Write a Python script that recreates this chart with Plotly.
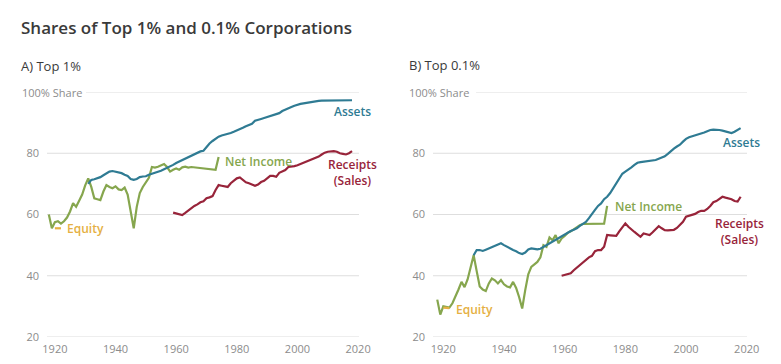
import plotly.graph_objects as go

# ---------------- data ----------------
# Panel A: Top 1%
a_ni_years = list(range(1918, 1975))
a_ni_vals = [60.0, 55.5, 57.5, 57.8, 57.0, 57.8, 59.0, 61.0, 63.7, 62.5,
             64.5, 66.5, 69.5, 71.8, 69.0, 65.3, 65.0, 64.7, 67.5, 69.6,
             69.0, 68.6, 69.2, 68.2, 68.0, 68.8, 66.5, 61.0, 55.5, 62.5,
             67.0, 69.0, 70.5, 72.0, 75.5, 75.3, 75.6, 76.0, 76.5, 75.5,
             74.0, 74.6, 75.0, 74.6, 75.4, 75.6, 75.3, 75.5, 75.4, 75.3,
             75.3, 75.1, 75.0, 74.9, 74.8, 74.6, 78.8]

a_assets_years = list(range(1931, 2019))
a_assets_vals = [70.0, 71.3, 71.5, 71.8, 72.2, 72.8, 73.5, 74.0, 74.2, 74.0,
                 73.8, 73.5, 73.0, 72.6, 71.6, 71.3, 71.6, 72.2, 72.4, 72.5,
                 73.0, 73.3, 73.5, 73.9, 74.3, 74.8, 75.2, 75.6, 76.2, 76.8,
                 77.3, 77.8, 78.3, 78.7, 79.1, 79.6, 80.1, 80.6, 80.8, 82.0,
                 83.2, 84.0, 84.7, 85.4, 85.8, 86.0, 86.2, 86.6, 87.0, 87.4,
                 87.7, 88.3, 88.8, 89.2, 89.6, 90.6, 91.0, 91.2, 91.5, 91.8,
                 92.0, 92.4, 92.8, 93.1, 93.8, 94.3, 94.8, 95.1, 95.5, 95.9,
                 96.1, 96.3, 96.5, 96.6, 96.8, 97.0, 97.1, 97.2, 97.2, 97.3,
                 97.3, 97.3, 97.3, 97.3, 97.3, 97.3, 97.3, 97.3]

a_rec_years = list(range(1959, 2019))
a_rec_vals = [60.6, 60.4, 60.0, 59.8, 60.5, 61.3, 62.2, 62.8, 63.3, 64.0,
              64.3, 65.3, 65.6, 66.0, 68.0, 69.6, 69.4, 69.2, 69.0, 70.2,
              71.0, 71.8, 72.1, 71.2, 70.5, 70.2, 69.8, 69.4, 69.8, 70.6,
              71.0, 71.8, 72.6, 72.6, 72.3, 73.6, 74.0, 74.5, 75.5, 75.6,
              75.8, 76.1, 76.5, 77.0, 77.3, 77.8, 78.0, 78.4, 78.9, 79.6,
              80.2, 80.5, 80.6, 80.7, 80.5, 80.0, 79.8, 79.6, 80.0, 80.7]

a_eq_years = [1920, 1921, 1922]
a_eq_vals = [55.5, 55.6, 55.5]

# Panel B: Top 0.1%
b_ni_years = list(range(1918, 1975))
b_ni_vals = [32.2, 27.3, 30.0, 29.8, 29.6, 31.0, 33.0, 35.5, 38.0, 36.3,
             38.8, 42.5, 46.7, 41.5, 36.5, 35.5, 35.0, 37.5, 39.1, 38.5,
             37.5, 38.6, 37.2, 36.5, 36.2, 38.0, 36.0, 33.0, 29.3, 35.3,
             40.5, 42.9, 43.8, 44.5, 46.0, 50.0, 49.4, 52.5, 51.6, 53.3,
             50.6, 52.2, 53.0, 54.0, 54.5, 55.2, 56.0, 56.5, 56.9, 56.9,
             56.9, 56.9, 56.9, 56.9, 56.9, 57.0, 62.8]

b_assets_years = list(range(1930, 2019))
b_assets_vals = [46.7, 48.4, 48.4, 48.1, 48.5, 48.9, 49.3, 49.8, 50.3, 50.6,
                 50.0, 49.4, 48.8, 48.4, 48.0, 47.4, 47.1, 47.6, 48.6, 48.9,
                 48.8, 48.6, 48.8, 49.4, 50.0, 50.6, 51.1, 51.6, 52.3, 53.0,
                 53.5, 54.0, 54.6, 55.0, 55.5, 56.3, 57.0, 57.6, 58.8, 60.3,
                 61.5, 62.8, 63.6, 65.0, 65.8, 67.0, 68.5, 70.0, 71.8, 73.3,
                 74.0, 74.6, 75.4, 76.2, 76.9, 77.1, 77.2, 77.3, 77.5, 77.6,
                 77.8, 78.2, 78.6, 79.0, 79.8, 80.8, 81.5, 82.2, 82.8, 83.8,
                 84.7, 85.2, 85.5, 85.7, 86.0, 86.4, 86.8, 87.2, 87.6, 87.7,
                 87.7, 87.6, 87.4, 87.1, 86.8, 86.6, 87.0, 87.5, 88.2]

b_rec_years = list(range(1959, 2019))
b_rec_vals = [40.0, 40.3, 40.5, 40.8, 41.8, 42.7, 43.5, 44.2, 45.2, 46.0,
              46.5, 48.0, 48.4, 48.4, 49.5, 53.3, 53.2, 53.0, 53.0, 54.5,
              56.0, 57.1, 56.0, 55.0, 54.3, 53.5, 52.7, 53.8, 53.5, 53.3,
              54.2, 55.3, 56.2, 55.5, 54.9, 54.8, 54.9, 55.0, 55.6, 56.5,
              57.6, 59.3, 59.6, 60.0, 60.2, 60.8, 61.2, 61.2, 61.8, 62.8,
              64.0, 64.4, 65.0, 65.8, 65.5, 65.3, 65.0, 64.4, 64.2, 65.8]

b_eq_years = [1920, 1921, 1922]
b_eq_vals = [29.6, 29.5, 29.4]

x_ticks = [1920, 1940, 1960, 1980, 2000, 2020]
y_ticks = [20, 40, 60, 80]
y_ticktext = ["20", "40", "60", "80"]

# ---------------- styling ----------------
C_ASSETS = "#2f7b93"
C_NI = "#86a64e"
C_REC = "#98243a"
C_EQ = "#e5b043"
C_GRID = "#dedede"
C_TICK = "#8c8c8c"
C_TITLE = "#3a3a3a"
FONT = "Open Sans"

W, H = 781, 364

fig = go.Figure()

def add_line(x, y, color, xa, ya):
    fig.add_trace(go.Scatter(x=x, y=y, mode="lines", xaxis=xa, yaxis=ya,
                             line=dict(color=color, width=2.2),
                             hoverinfo="skip", showlegend=False))

add_line(a_ni_years, a_ni_vals, C_NI, "x", "y")
add_line(a_eq_years, a_eq_vals, C_EQ, "x", "y")
add_line(a_assets_years, a_assets_vals, C_ASSETS, "x", "y")
add_line(a_rec_years, a_rec_vals, C_REC, "x", "y")

add_line(b_ni_years, b_ni_vals, C_NI, "x2", "y2")
add_line(b_eq_years, b_eq_vals, C_EQ, "x2", "y2")
add_line(b_assets_years, b_assets_vals, C_ASSETS, "x2", "y2")
add_line(b_rec_years, b_rec_vals, C_REC, "x2", "y2")

ydom = [27 / H, 272 / H]
xaxis_common = dict(showgrid=False, zeroline=False, showline=False, ticks="",
                    automargin=False,
                    tickvals=x_ticks, tickfont=dict(family=FONT, size=11, color=C_TICK),
                    ticklabelstandoff=4, fixedrange=True)
yaxis_common = dict(showgrid=False, zeroline=False, showline=False, ticks="",
                    automargin=False,
                    range=[20, 100], tickvals=y_ticks, ticktext=y_ticktext,
                    tickfont=dict(family=FONT, size=11, color=C_TICK),
                    ticklabelstandoff=7, domain=ydom, fixedrange=True)

fig.update_layout(
    template="none",
    width=W, height=H,
    margin=dict(l=0, r=0, t=0, b=0, pad=0, autoexpand=False),
    paper_bgcolor="white", plot_bgcolor="white",
    font=dict(family=FONT),
    showlegend=False,
    xaxis=dict(xaxis_common, domain=[47 / W, 359 / W], range=[1917.4, 2020.3], anchor="y"),
    yaxis=dict(yaxis_common, anchor="x"),
    xaxis2=dict(xaxis_common, domain=[433 / W, 747 / W], range=[1916.6, 2020.1], anchor="y2"),
    yaxis2=dict(yaxis_common, anchor="x2"),
)

# gridlines
shapes = []
for xr, yr, start100 in [("x domain", "y", 0.125), ("x2 domain", "y2", 0.137)]:
    for v in y_ticks:
        shapes.append(dict(type="line", xref=xr, yref=yr, x0=0, x1=1, y0=v, y1=v,
                           line=dict(color=C_GRID, width=1.2), layer="below"))
    shapes.append(dict(type="line", xref=xr, yref=yr, x0=start100, x1=1, y0=100, y1=100,
                       line=dict(color=C_GRID, width=1.2), layer="below"))
fig.update_layout(shapes=shapes)

ann = []
def txt(text, x, y, xref, yref, size, color, xanchor="left", yanchor="middle",
        weight=400, align="left"):
    ann.append(dict(text=text, x=x, y=y, xref=xref, yref=yref, showarrow=False,
                    xanchor=xanchor, yanchor=yanchor, align=align,
                    font=dict(family=FONT, size=size, color=color, weight=weight)))

# titles
txt("Shares of Top 1% and 0.1% Corporations", 19 / W, 1 - 28 / H, "paper", "paper",
    17, C_TITLE, weight=600)
txt("A) Top 1%", 19 / W, 1 - 66 / H, "paper", "paper", 13, C_TITLE, weight=400)
txt("B) Top 0.1%", 407 / W, 1 - 65 / H, "paper", "paper", 13, C_TITLE, weight=400)
txt("100% Share", 20 / W, 100, "paper", "y", 11, C_TICK)
txt("100% Share", 407 / W, 100, "paper", "y2", 11, C_TICK)

# series labels, panel A
txt("Assets", 2018.3, 93.6, "x", "y", 12, C_ASSETS, xanchor="center", weight=600)
txt("Net Income", 1975.4, 77.2, "x", "y", 12, C_NI, weight=600)
txt("Receipts<br>(Sales)", 2018.2, 73.7, "x", "y", 12, C_REC, xanchor="center",
    weight=600, align="center")
txt("Equity", 1923.3, 55.4, "x", "y", 12, C_EQ, weight=600)

# series labels, panel B
txt("Assets", 2018.2, 83.5, "x2", "y2", 12, C_ASSETS, xanchor="center", weight=600)
txt("Net Income", 1976.0, 62.5, "x2", "y2", 12, C_NI, weight=600)
txt("Receipts<br>(Sales)", 2017.6, 54.3, "x2", "y2", 12, C_REC, xanchor="center",
    weight=600, align="center")
txt("Equity", 1923.6, 29.0, "x2", "y2", 12, C_EQ, weight=600)

fig.update_layout(annotations=ann)

fig.write_html("out.html", config={"displayModeBar": False},
               post_script="document.body.style.margin='0';")
